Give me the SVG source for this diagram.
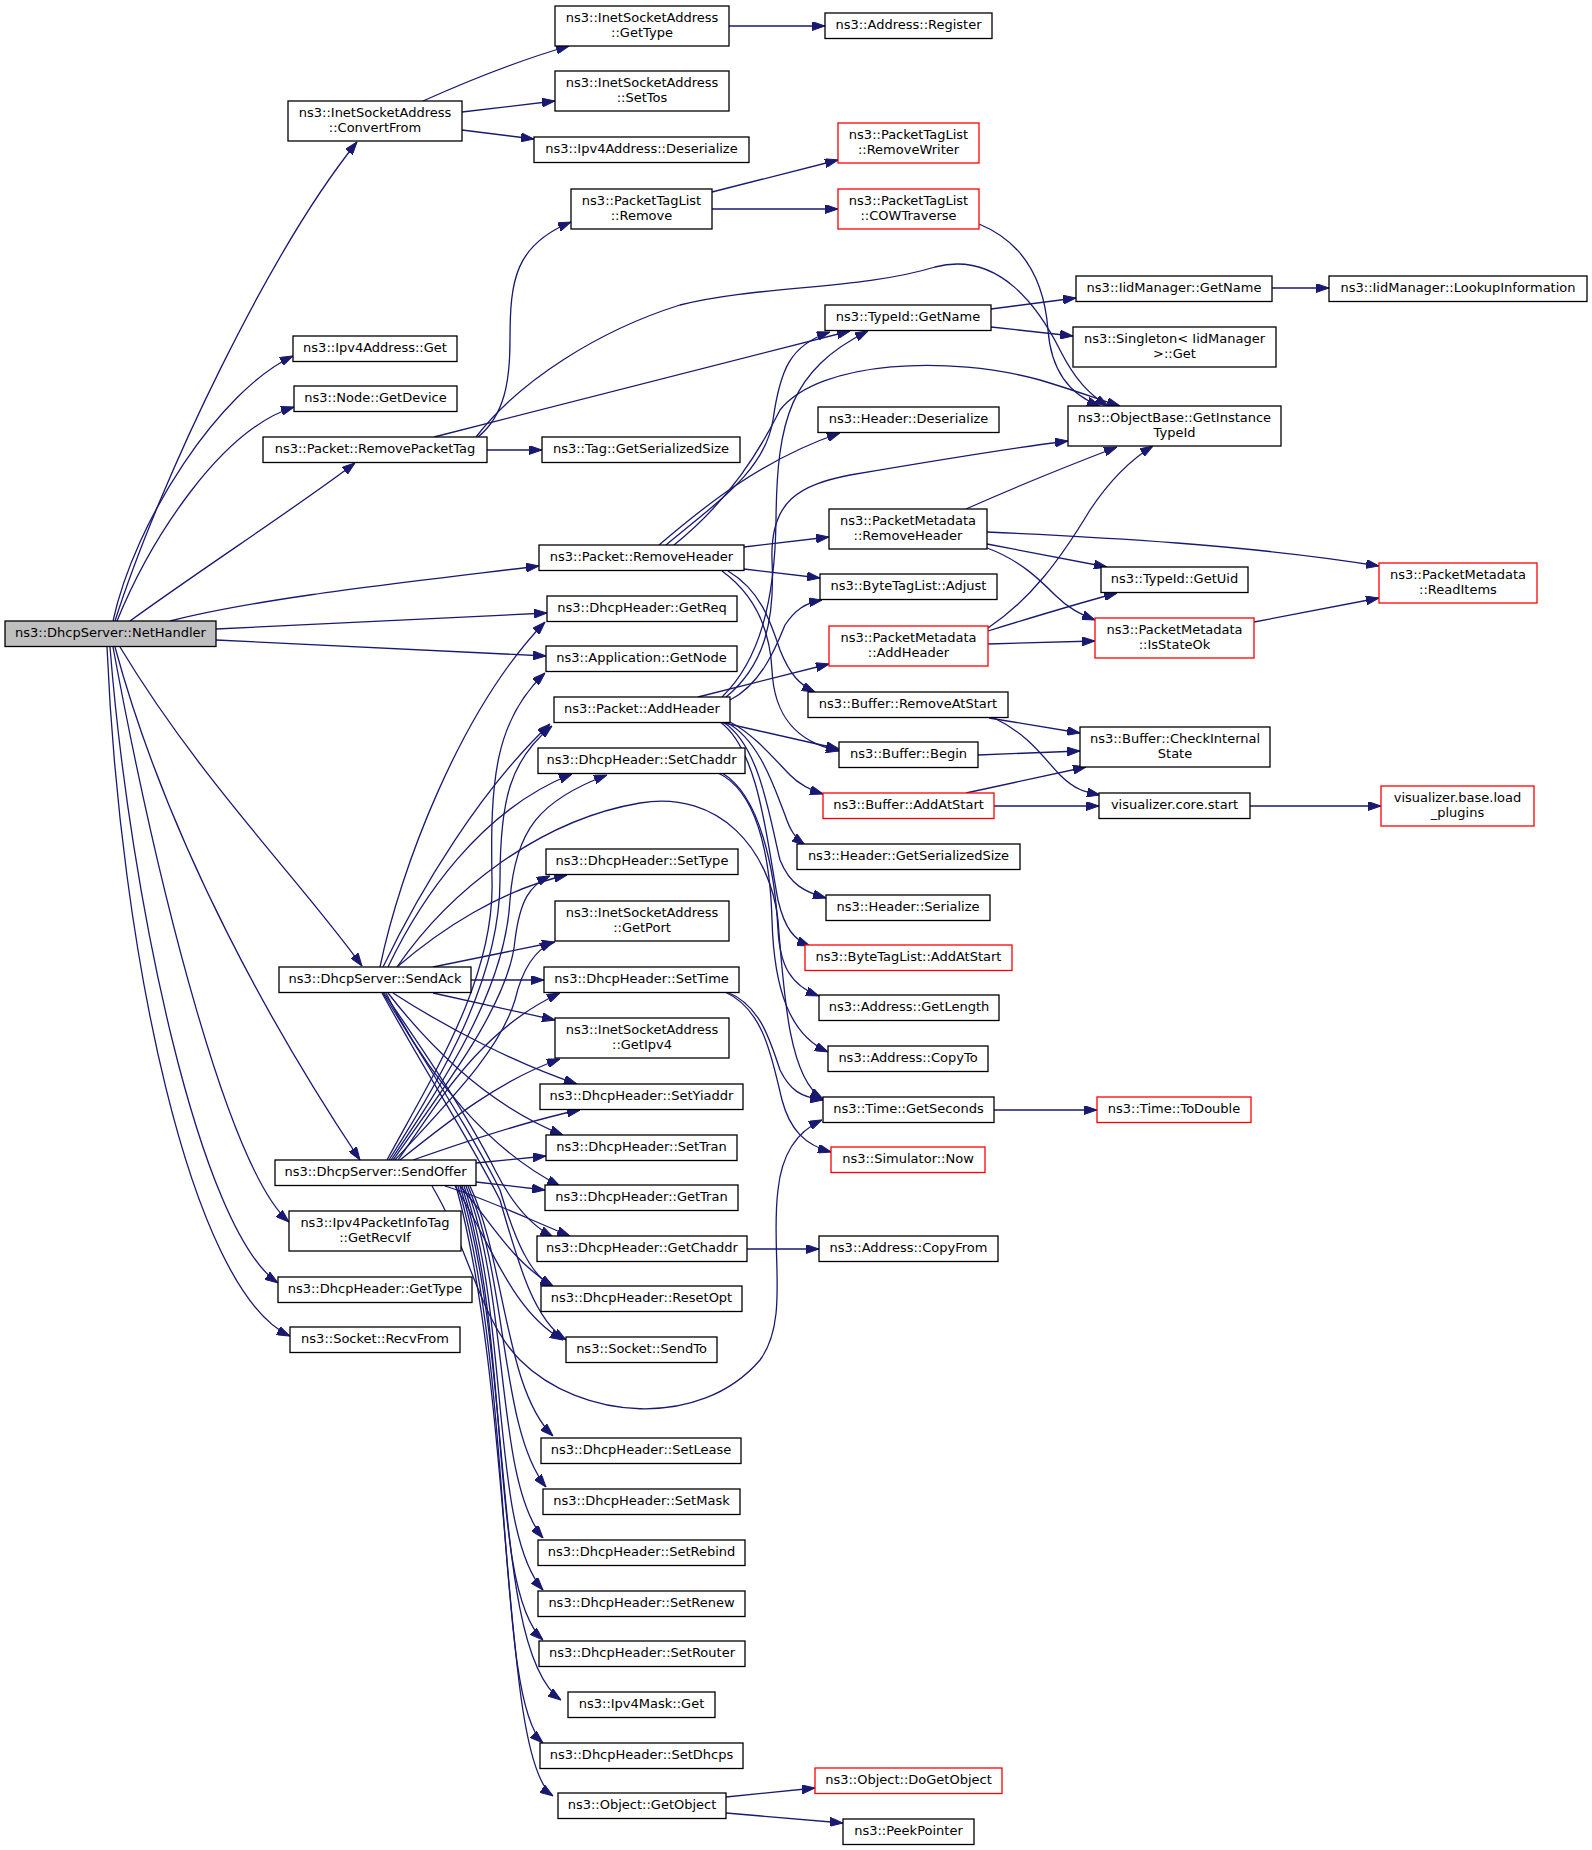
<svg xmlns="http://www.w3.org/2000/svg" width="1592" height="1850" viewBox="0 0 1592 1850">
<style>
.n rect{fill:#fff;stroke:#000;stroke-width:1.3}
.n.r rect{stroke:#ff0000}
.n.g rect{fill:#bfbfbf}
text{font-family:"DejaVu Sans","Liberation Sans",sans-serif;font-size:13px;text-anchor:middle;fill:#000}
.e path{fill:none;stroke:#191970;stroke-width:1.3;marker-end:url(#a)}
</style>
<defs>
<marker id="a" viewBox="0 0 13 9" refX="13" refY="4.5" markerWidth="13" markerHeight="9" markerUnits="userSpaceOnUse" orient="auto">
<path d="M0,0 L13,4.5 L0,9 z" fill="#191970" stroke="#191970" stroke-width="1"/>
</marker>
</defs>
<rect width="1592" height="1850" fill="#fff"/>
<g class="e" id="connectors">
<path d="M115,621 C160,480 270,250 357,142"/>
<path d="M113,621 C135,520 220,390 293,356"/>
<path d="M117,621 C150,540 220,430 294,407"/>
<path d="M130,621 C200,570 300,505 355,463"/>
<path d="M170,621 C260,598 400,583 539,566"/>
<path d="M216,629 L547,613"/>
<path d="M216,640 L546,656"/>
<path d="M120,647 C200,780 300,880 362,966"/>
<path d="M115,647 C170,850 280,1040 360,1160"/>
<path d="M113,647 C160,900 230,1170 289,1222"/>
<path d="M110,647 C130,900 200,1230 278,1283"/>
<path d="M107,647 C120,950 190,1290 290,1336"/>
<path d="M423,101 C470,80 520,60 569,46"/>
<path d="M462,112 L555,101"/>
<path d="M462,130 L534,139"/>
<path d="M729,26 L825,26"/>
<path d="M712,192 L838,160"/>
<path d="M712,209 L838,209"/>
<path d="M979,224 C1030,245 1045,290 1048,330 C1051,370 1070,395 1100,406"/>
<path d="M478,437 C505,415 510,380 510,340 C510,280 515,245 571,222"/>
<path d="M434,437 L850,331"/>
<path d="M476,437 C520,380 600,330 680,305 C760,285 860,290 935,267 C1000,250 1040,310 1060,350 C1075,380 1090,395 1108,406"/>
<path d="M487,450 L542,450"/>
<path d="M991,309 L1076,298"/>
<path d="M991,327 L1073,336"/>
<path d="M1272,288 L1329,288"/>
<path d="M659,545 C700,510 760,460 840,433"/>
<path d="M666,545 C720,500 765,470 773,420 C780,370 790,345 830,332"/>
<path d="M674,545 C730,500 760,450 780,410 C820,360 950,355 1040,380 C1080,392 1100,400 1120,406"/>
<path d="M744,547 L829,537"/>
<path d="M744,569 L820,578"/>
<path d="M728,571 C760,590 770,620 780,650 C790,675 800,685 815,692"/>
<path d="M722,571 C755,595 770,630 772,670 C774,715 795,742 839,751"/>
<path d="M698,697 L829,664"/>
<path d="M730,700 C760,685 775,650 785,625 C795,610 805,603 822,600"/>
<path d="M722,697 C760,660 775,600 776,520 C777,420 790,370 868,331"/>
<path d="M726,697 C765,665 775,620 772,560 C770,500 800,485 850,475 C950,458 1010,448 1068,441"/>
<path d="M720,722 L839,749"/>
<path d="M730,722 C755,735 775,760 790,775 C800,785 810,790 823,794"/>
<path d="M726,722 C760,740 775,790 785,815 C790,830 795,838 805,845"/>
<path d="M723,722 C760,745 770,820 780,860 C790,885 805,892 826,898"/>
<path d="M720,722 C760,750 768,850 778,900 C785,930 795,940 810,946"/>
<path d="M722,773 C760,795 775,870 778,930 C780,965 790,985 819,996"/>
<path d="M718,773 C755,790 770,850 772,920 C774,990 790,1035 828,1052"/>
<path d="M727,992 C760,1005 770,1040 780,1070 C790,1090 800,1097 823,1100"/>
<path d="M725,992 C765,1010 772,1060 782,1100 C790,1130 805,1145 831,1152"/>
<path d="M747,1249 L819,1249"/>
<path d="M966,509 C1020,485 1070,465 1117,447"/>
<path d="M987,532 C1100,537 1250,545 1379,566"/>
<path d="M987,544 L1107,567"/>
<path d="M987,548 C1020,560 1040,580 1055,595 C1068,608 1080,614 1095,620"/>
<path d="M988,628 C1030,600 1060,560 1090,510 C1110,480 1130,460 1153,446"/>
<path d="M988,631 C1030,618 1080,603 1117,593"/>
<path d="M988,644 L1095,641"/>
<path d="M1254,622 L1379,598"/>
<path d="M989,718 L1080,733"/>
<path d="M994,718 C1030,735 1045,760 1060,775 C1075,790 1085,792 1100,795"/>
<path d="M978,755 L1080,751"/>
<path d="M966,793 L1086,767"/>
<path d="M994,806 L1099,806"/>
<path d="M1250,806 L1381,806"/>
<path d="M994,1110 L1097,1110"/>
<path d="M726,1797 L815,1788"/>
<path d="M726,1813 L843,1823"/>
<path d="M380,967 C400,870 460,710 545,622"/>
<path d="M383,967 C420,890 480,790 550,724"/>
<path d="M388,967 C420,900 480,810 572,774"/>
<path d="M397,967 C440,930 500,890 567,875"/>
<path d="M433,967 L555,942"/>
<path d="M471,980 L544,980"/>
<path d="M433,993 L555,1020"/>
<path d="M393,993 C450,1030 520,1065 577,1084"/>
<path d="M388,993 C440,1060 500,1110 563,1135"/>
<path d="M386,993 C430,1080 490,1150 560,1186"/>
<path d="M384,993 C430,1060 470,1120 495,1170 C510,1200 530,1225 553,1237"/>
<path d="M383,993 C430,1070 470,1130 500,1190 C515,1240 530,1275 553,1287"/>
<path d="M382,993 C430,1080 470,1140 500,1200 C520,1270 535,1320 566,1340"/>
<path d="M397,967 C450,890 540,820 640,803 C720,790 770,850 778,920 C784,1000 790,1080 823,1099"/>
<path d="M387,1160 C430,1080 495,980 492,880 C490,780 495,720 545,673"/>
<path d="M389,1160 C440,1080 500,980 500,880 C500,800 510,760 552,726"/>
<path d="M391,1160 C445,1080 505,990 510,900 C515,830 540,800 607,775"/>
<path d="M393,1160 C450,1080 510,1000 515,940 C520,900 530,885 550,876"/>
<path d="M395,1160 C450,1100 500,1050 515,1000 C522,970 535,950 553,942"/>
<path d="M398,1160 C440,1100 480,1030 560,993"/>
<path d="M400,1160 C450,1120 500,1080 560,1059"/>
<path d="M413,1160 C470,1140 530,1120 580,1110"/>
<path d="M476,1163 L546,1156"/>
<path d="M476,1182 L545,1190"/>
<path d="M445,1186 C490,1200 530,1220 570,1236"/>
<path d="M460,1186 C490,1220 510,1260 553,1286"/>
<path d="M455,1186 C490,1240 510,1310 563,1340"/>
<path d="M432,1186 C470,1250 480,1320 520,1360 C580,1420 700,1430 760,1360 C790,1320 770,1250 778,1190 C782,1150 800,1130 822,1120"/>
<path d="M470,1186 C505,1260 505,1390 553,1436"/>
<path d="M468,1186 C508,1280 500,1430 546,1487"/>
<path d="M466,1186 C510,1300 495,1480 543,1538"/>
<path d="M464,1186 C510,1320 490,1530 543,1590"/>
<path d="M462,1186 C512,1340 488,1590 543,1640"/>
<path d="M460,1186 C515,1360 490,1650 561,1700"/>
<path d="M458,1186 C515,1380 495,1700 543,1743"/>
<path d="M456,1186 C515,1400 500,1760 553,1796"/>
</g>
<g class="n g" id="n0"><rect x="5" y="621" width="211" height="25.5"/><text x="110.5" y="637">ns3::DhcpServer::NetHandler</text></g>
<g class="n" id="n1"><rect x="288" y="101" width="174" height="40"/><text x="375" y="117">ns3::InetSocketAddress</text><text x="375" y="131.5">::ConvertFrom</text></g>
<g class="n" id="n2"><rect x="555" y="6" width="174" height="40"/><text x="642" y="22">ns3::InetSocketAddress</text><text x="642" y="36.5">::GetType</text></g>
<g class="n" id="n3"><rect x="825" y="13" width="167" height="25.5"/><text x="908.5" y="29">ns3::Address::Register</text></g>
<g class="n" id="n4"><rect x="555" y="71" width="174" height="40"/><text x="642" y="87">ns3::InetSocketAddress</text><text x="642" y="101.5">::SetTos</text></g>
<g class="n" id="n5"><rect x="534" y="137" width="215" height="25.5"/><text x="641.5" y="153">ns3::Ipv4Address::Deserialize</text></g>
<g class="n" id="n6"><rect x="293" y="336" width="164" height="25.5"/><text x="375" y="352">ns3::Ipv4Address::Get</text></g>
<g class="n" id="n7"><rect x="294" y="386" width="163" height="25.5"/><text x="375.5" y="402">ns3::Node::GetDevice</text></g>
<g class="n" id="n8"><rect x="263" y="437" width="224" height="25.5"/><text x="375" y="453">ns3::Packet::RemovePacketTag</text></g>
<g class="n" id="n9"><rect x="571" y="189" width="141" height="40"/><text x="641.5" y="205">ns3::PacketTagList</text><text x="641.5" y="219.5">::Remove</text></g>
<g class="n r" id="n10"><rect x="838" y="123" width="141" height="40"/><text x="908.5" y="139">ns3::PacketTagList</text><text x="908.5" y="153.5">::RemoveWriter</text></g>
<g class="n r" id="n11"><rect x="838" y="189" width="141" height="40"/><text x="908.5" y="205">ns3::PacketTagList</text><text x="908.5" y="219.5">::COWTraverse</text></g>
<g class="n" id="n12"><rect x="825" y="305" width="166" height="25.5"/><text x="908" y="321">ns3::TypeId::GetName</text></g>
<g class="n" id="n13"><rect x="1076" y="276" width="196" height="25.5"/><text x="1174" y="292">ns3::IidManager::GetName</text></g>
<g class="n" id="n14"><rect x="1329" y="276" width="258" height="25.5"/><text x="1458" y="292">ns3::IidManager::LookupInformation</text></g>
<g class="n" id="n15"><rect x="1073" y="327" width="203" height="40"/><text x="1174.5" y="343">ns3::Singleton&lt; IidManager</text><text x="1174.5" y="357.5">&gt;::Get</text></g>
<g class="n" id="n16"><rect x="1068" y="406" width="213" height="40"/><text x="1174.5" y="422">ns3::ObjectBase::GetInstance</text><text x="1174.5" y="436.5">TypeId</text></g>
<g class="n" id="n17"><rect x="542" y="437" width="198" height="25.5"/><text x="641" y="453">ns3::Tag::GetSerializedSize</text></g>
<g class="n" id="n18"><rect x="818" y="407" width="181" height="25.5"/><text x="908.5" y="423">ns3::Header::Deserialize</text></g>
<g class="n" id="n19"><rect x="539" y="545" width="205" height="25.5"/><text x="641.5" y="561">ns3::Packet::RemoveHeader</text></g>
<g class="n" id="n20"><rect x="829" y="509" width="158" height="40"/><text x="908" y="525">ns3::PacketMetadata</text><text x="908" y="539.5">::RemoveHeader</text></g>
<g class="n" id="n21"><rect x="1101" y="567" width="147" height="25.5"/><text x="1174.5" y="583">ns3::TypeId::GetUid</text></g>
<g class="n r" id="n22"><rect x="1379" y="563" width="158" height="40"/><text x="1458" y="579">ns3::PacketMetadata</text><text x="1458" y="593.5">::ReadItems</text></g>
<g class="n" id="n23"><rect x="820" y="574" width="177" height="25.5"/><text x="908.5" y="590">ns3::ByteTagList::Adjust</text></g>
<g class="n" id="n24"><rect x="547" y="596" width="190" height="25.5"/><text x="642" y="612">ns3::DhcpHeader::GetReq</text></g>
<g class="n" id="n25"><rect x="546" y="646" width="191" height="25.5"/><text x="641.5" y="662">ns3::Application::GetNode</text></g>
<g class="n r" id="n26"><rect x="829" y="626" width="159" height="40"/><text x="908.5" y="642">ns3::PacketMetadata</text><text x="908.5" y="656.5">::AddHeader</text></g>
<g class="n r" id="n27"><rect x="1095" y="618" width="159" height="40"/><text x="1174.5" y="634">ns3::PacketMetadata</text><text x="1174.5" y="648.5">::IsStateOk</text></g>
<g class="n" id="n28"><rect x="554" y="697" width="176" height="25.5"/><text x="642" y="713">ns3::Packet::AddHeader</text></g>
<g class="n" id="n29"><rect x="808" y="692" width="200" height="25.5"/><text x="908" y="708">ns3::Buffer::RemoveAtStart</text></g>
<g class="n" id="n30"><rect x="1080" y="727" width="190" height="40"/><text x="1175" y="743">ns3::Buffer::CheckInternal</text><text x="1175" y="757.5">State</text></g>
<g class="n" id="n31"><rect x="839" y="742" width="139" height="25.5"/><text x="908.5" y="758">ns3::Buffer::Begin</text></g>
<g class="n" id="n32"><rect x="538" y="748" width="207" height="25.5"/><text x="641.5" y="764">ns3::DhcpHeader::SetChaddr</text></g>
<g class="n r" id="n33"><rect x="823" y="793" width="171" height="25.5"/><text x="908.5" y="809">ns3::Buffer::AddAtStart</text></g>
<g class="n" id="n34"><rect x="1099" y="793" width="151" height="25.5"/><text x="1174.5" y="809">visualizer.core.start</text></g>
<g class="n r" id="n35"><rect x="1381" y="786" width="153" height="40"/><text x="1457.5" y="802">visualizer.base.load</text><text x="1457.5" y="816.5">_plugins</text></g>
<g class="n" id="n36"><rect x="797" y="844" width="223" height="25.5"/><text x="908.5" y="860">ns3::Header::GetSerializedSize</text></g>
<g class="n" id="n37"><rect x="546" y="849" width="192" height="25.5"/><text x="642" y="865">ns3::DhcpHeader::SetType</text></g>
<g class="n" id="n38"><rect x="826" y="895" width="164" height="25.5"/><text x="908" y="911">ns3::Header::Serialize</text></g>
<g class="n" id="n39"><rect x="555" y="901" width="174" height="40"/><text x="642" y="917">ns3::InetSocketAddress</text><text x="642" y="931.5">::GetPort</text></g>
<g class="n r" id="n40"><rect x="805" y="945" width="207" height="25.5"/><text x="908.5" y="961">ns3::ByteTagList::AddAtStart</text></g>
<g class="n" id="n41"><rect x="279" y="967" width="192" height="25.5"/><text x="375" y="983">ns3::DhcpServer::SendAck</text></g>
<g class="n" id="n42"><rect x="544" y="967" width="195" height="25.5"/><text x="641.5" y="983">ns3::DhcpHeader::SetTime</text></g>
<g class="n" id="n43"><rect x="819" y="995" width="180" height="25.5"/><text x="909" y="1011">ns3::Address::GetLength</text></g>
<g class="n" id="n44"><rect x="555" y="1018" width="174" height="40"/><text x="642" y="1034">ns3::InetSocketAddress</text><text x="642" y="1048.5">::GetIpv4</text></g>
<g class="n" id="n45"><rect x="828" y="1046" width="160" height="25.5"/><text x="908" y="1062">ns3::Address::CopyTo</text></g>
<g class="n" id="n46"><rect x="540" y="1084" width="203" height="25.5"/><text x="641.5" y="1100">ns3::DhcpHeader::SetYiaddr</text></g>
<g class="n" id="n47"><rect x="823" y="1097" width="171" height="25.5"/><text x="908.5" y="1113">ns3::Time::GetSeconds</text></g>
<g class="n r" id="n48"><rect x="1097" y="1097" width="154" height="25.5"/><text x="1174" y="1113">ns3::Time::ToDouble</text></g>
<g class="n" id="n49"><rect x="546" y="1135" width="191" height="25.5"/><text x="641.5" y="1151">ns3::DhcpHeader::SetTran</text></g>
<g class="n r" id="n50"><rect x="831" y="1147" width="154" height="25.5"/><text x="908" y="1163">ns3::Simulator::Now</text></g>
<g class="n" id="n51"><rect x="275" y="1160" width="201" height="25.5"/><text x="375.5" y="1176">ns3::DhcpServer::SendOffer</text></g>
<g class="n" id="n52"><rect x="545" y="1185" width="193" height="25.5"/><text x="641.5" y="1201">ns3::DhcpHeader::GetTran</text></g>
<g class="n" id="n53"><rect x="289" y="1211" width="172" height="40"/><text x="375" y="1227">ns3::Ipv4PacketInfoTag</text><text x="375" y="1241.5">::GetRecvIf</text></g>
<g class="n" id="n54"><rect x="537" y="1236" width="210" height="25.5"/><text x="642" y="1252">ns3::DhcpHeader::GetChaddr</text></g>
<g class="n" id="n55"><rect x="819" y="1236" width="179" height="25.5"/><text x="908.5" y="1252">ns3::Address::CopyFrom</text></g>
<g class="n" id="n56"><rect x="278" y="1277" width="194" height="25.5"/><text x="375" y="1293">ns3::DhcpHeader::GetType</text></g>
<g class="n" id="n57"><rect x="541" y="1286" width="201" height="25.5"/><text x="641.5" y="1302">ns3::DhcpHeader::ResetOpt</text></g>
<g class="n" id="n58"><rect x="290" y="1327" width="170" height="25.5"/><text x="375" y="1343">ns3::Socket::RecvFrom</text></g>
<g class="n" id="n59"><rect x="566" y="1337" width="151" height="25.5"/><text x="641.5" y="1353">ns3::Socket::SendTo</text></g>
<g class="n" id="n60"><rect x="541" y="1438" width="200" height="25.5"/><text x="641" y="1454">ns3::DhcpHeader::SetLease</text></g>
<g class="n" id="n61"><rect x="543" y="1489" width="197" height="25.5"/><text x="641.5" y="1505">ns3::DhcpHeader::SetMask</text></g>
<g class="n" id="n62"><rect x="538" y="1540" width="207" height="25.5"/><text x="641.5" y="1556">ns3::DhcpHeader::SetRebind</text></g>
<g class="n" id="n63"><rect x="538" y="1591" width="207" height="25.5"/><text x="641.5" y="1607">ns3::DhcpHeader::SetRenew</text></g>
<g class="n" id="n64"><rect x="539" y="1641" width="206" height="25.5"/><text x="642" y="1657">ns3::DhcpHeader::SetRouter</text></g>
<g class="n" id="n65"><rect x="568" y="1692" width="147" height="25.5"/><text x="641.5" y="1708">ns3::Ipv4Mask::Get</text></g>
<g class="n" id="n66"><rect x="540" y="1743" width="203" height="25.5"/><text x="641.5" y="1759">ns3::DhcpHeader::SetDhcps</text></g>
<g class="n" id="n67"><rect x="558" y="1793" width="168" height="25.5"/><text x="642" y="1809">ns3::Object::GetObject</text></g>
<g class="n r" id="n68"><rect x="815" y="1768" width="187" height="25.5"/><text x="908.5" y="1784">ns3::Object::DoGetObject</text></g>
<g class="n" id="n69"><rect x="843" y="1819" width="131" height="25.5"/><text x="908.5" y="1835">ns3::PeekPointer</text></g>
</svg>
